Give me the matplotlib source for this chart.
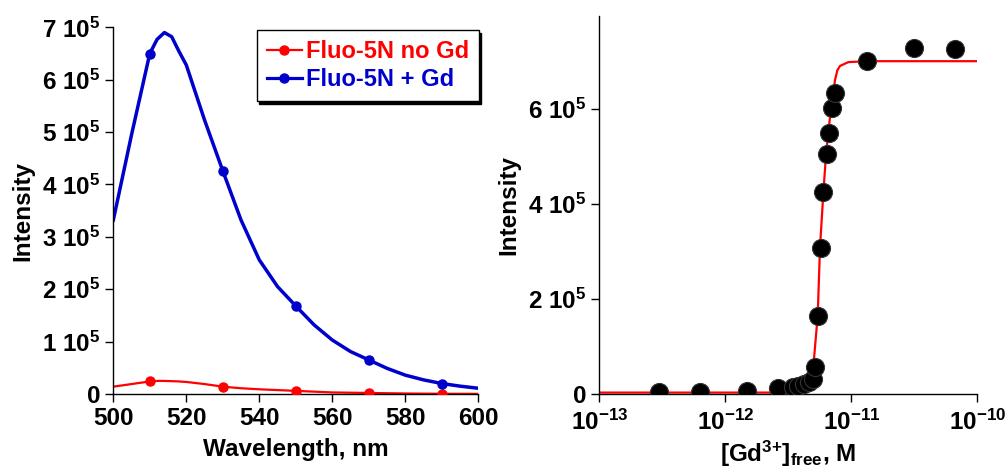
import numpy as np
import matplotlib
matplotlib.use("Agg")
import matplotlib.pyplot as plt

plt.rcParams["font.family"] = ["Liberation Sans", "DejaVu Sans"]
plt.rcParams["font.weight"] = "bold"
plt.rcParams["mathtext.fontset"] = "custom"
plt.rcParams["mathtext.rm"] = "Liberation Sans:bold"
plt.rcParams["mathtext.bf"] = "Liberation Sans:bold"
plt.rcParams["mathtext.it"] = "Liberation Sans:bold"
plt.rcParams["mathtext.default"] = "bf"

# ---- emission spectra (intensity in units of 1e5) ----
wavelength = [500, 505, 510, 512, 514, 516, 518, 520, 525, 530, 535, 540, 545,
              550, 555, 560, 565, 570, 575, 580, 585, 590, 595, 600]
gd_spectrum = [3.32, 4.95, 6.50, 6.77, 6.90, 6.82, 6.54, 6.28, 5.23, 4.26, 3.32,
               2.56, 2.05, 1.68, 1.32, 1.03, 0.81, 0.65, 0.49, 0.36, 0.27, 0.20,
               0.15, 0.11]
nogd_spectrum = [0.14, 0.19, 0.24, 0.25, 0.25, 0.245, 0.24, 0.23, 0.19, 0.14,
                 0.11, 0.09, 0.075, 0.06, 0.045, 0.03, 0.025, 0.02, 0.015, 0.01,
                 0.007, 0.005, 0.004, 0.003]
marker_wavelengths = [510, 530, 550, 570, 590]

# ---- titration (log10 of free Gd3+ concentration, intensity in 1e5) ----
log_gd_free = [-12.526, -12.201, -11.831, -11.579, -11.466, -11.421, -11.376,
               -11.333, -11.302, -11.288, -11.262, -11.243, -11.222, -11.196,
               -11.177, -11.156, -11.132, -10.878, -10.503, -10.177]
titration_intensity = [0.05, 0.05, 0.07, 0.12, 0.14, 0.17, 0.21, 0.26, 0.31,
                       0.57, 1.65, 3.08, 4.24, 5.04, 5.50, 6.02, 6.33, 7.01,
                       7.27, 7.25]
fit_log_gd = [-13.0, -11.6, -11.46, -11.394, -11.354, -11.328, -11.302, -11.267,
              -11.249, -11.222, -11.201, -11.183, -11.161, -11.143, -11.130,
              -11.111, -11.090, -11.024, -10.878, -10.0]
fit_intensity = [0.03, 0.03, 0.035, 0.07, 0.15, 0.29, 0.57, 1.65, 3.08, 4.24,
                 5.04, 5.50, 6.02, 6.33, 6.60, 6.81, 6.90, 6.98, 7.00, 7.00]

RED = "#FF0000"
BLUE = "#0000CC"
FS = 17.5

fig = plt.figure(figsize=(10.08, 4.67), dpi=100)

# ---------------- left: spectra ----------------
ax1 = fig.add_axes([0.1124, 0.1563, 0.3621, 0.7852])
wl = np.array(wavelength)
gd = np.array(gd_spectrum) * 1e5
nogd = np.array(nogd_spectrum) * 1e5
mk = np.isin(wl, marker_wavelengths)
ax1.plot(wl, nogd, color=RED, lw=1.6, zorder=2)
ax1.plot(wl[mk], nogd[mk], "o", color=RED, ms=6.5, zorder=3)
ax1.plot(wl, gd, color=BLUE, lw=2.5, zorder=2)
ax1.plot(wl[mk], gd[mk], "o", color=BLUE, ms=6.5, zorder=3)
# legend proxies (line with a dot in the middle)
h1, = ax1.plot([], [], "-o", color=RED, lw=1.6, ms=6.5, markevery=[1])
h2, = ax1.plot([], [], "-o", color=BLUE, lw=2.3, ms=6.5, markevery=[1])
leg = ax1.legend([h1, h2], ["Fluo-5N no Gd", "Fluo-5N + Gd"],
                 loc="upper left", bbox_to_anchor=(0.38, 1.005),
                 fontsize=17, handlelength=1.5, handletextpad=0.15,
                 borderpad=0.42, labelspacing=0.2, frameon=True, fancybox=False,
                 shadow={"color": "black", "alpha": 1.0}, numpoints=1,
                 borderaxespad=0.2)
leg.get_frame().set_edgecolor("black")
leg.get_frame().set_linewidth(1.0)
for txt, c in zip(leg.get_texts(), [RED, BLUE]):
    txt.set_color(c)
    txt.set_fontweight("bold")

ax1.set_xlim(500, 600)
ax1.set_ylim(0, 7e5)
ax1.set_xticks([500, 520, 540, 560, 580, 600])
ax1.set_yticks([i * 1e5 for i in range(8)])
ax1.set_yticklabels(["0"] + [f"{i} 10$^5$" for i in range(1, 8)])
ax1.set_xlabel("Wavelength, nm", fontsize=FS, fontweight="bold", labelpad=6)
ax1.set_ylabel("Intensity", fontsize=FS, fontweight="bold", labelpad=6)

# ---------------- right: titration ----------------
ax2 = fig.add_axes([0.5946, 0.1563, 0.375, 0.8094])
ax2.set_xscale("log")
ax2.plot(10 ** np.array(fit_log_gd), np.array(fit_intensity) * 1e5,
         color=RED, lw=1.6, zorder=2)
ax2.plot(10 ** np.array(log_gd_free), np.array(titration_intensity) * 1e5, "o",
         color="black", mec="#333333", mew=0.8, ms=13, zorder=3)
ax2.set_xlim(1e-13, 1e-10)
ax2.set_ylim(0, 7.95e5)
ax2.set_xticks([1e-13, 1e-12, 1e-11, 1e-10])
ax2.set_xticklabels(["10$^{-13}$", "10$^{-12}$", "10$^{-11}$", "10$^{-10}$"])
ax2.xaxis.set_minor_locator(matplotlib.ticker.NullLocator())
ax2.set_yticks([0, 2e5, 4e5, 6e5])
ax2.set_yticklabels(["0", "2 10$^5$", "4 10$^5$", "6 10$^5$"])
ax2.set_xlabel("[Gd$^{3{+}}$]$_{free}$, M", fontsize=FS, fontweight="bold",
               labelpad=3)
ax2.set_ylabel("Intensity", fontsize=FS, fontweight="bold", labelpad=6)

for ax in (ax1, ax2):
    for s in ("top", "right"):
        ax.spines[s].set_visible(False)
    for s in ("left", "bottom"):
        ax.spines[s].set_linewidth(1.0)
    ax.tick_params(axis="both", which="major", direction="out", length=6,
                   width=1.0, labelsize=FS, pad=3)
    for lab in ax.get_xticklabels() + ax.get_yticklabels():
        lab.set_fontweight("bold")
ax2.tick_params(axis="x", pad=5)

fig.savefig("out.png", dpi=100)
